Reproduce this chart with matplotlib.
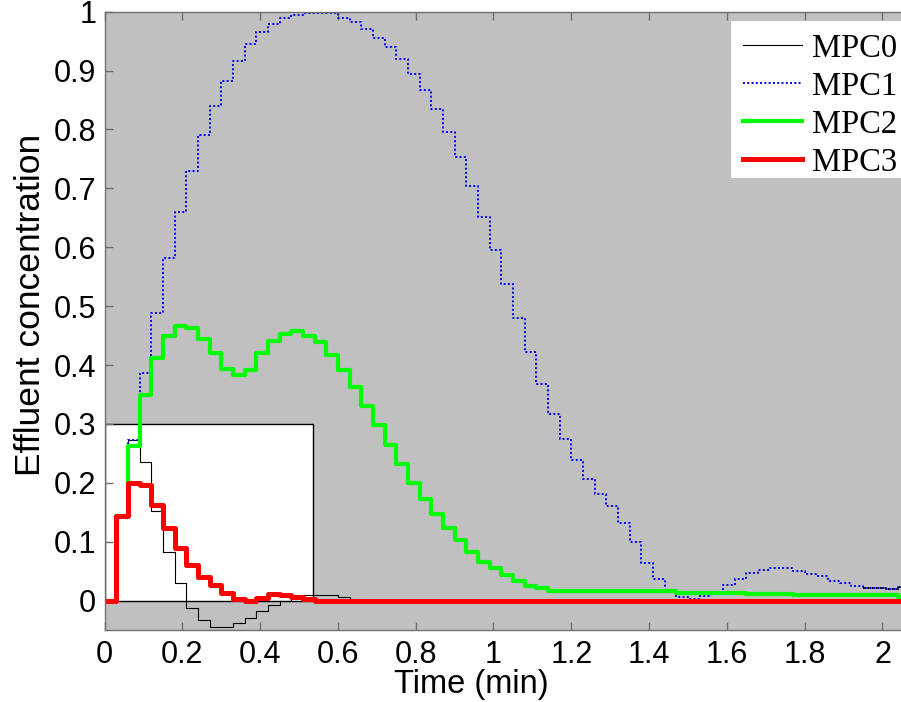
import numpy as np
import matplotlib
matplotlib.use("Agg")
import matplotlib.pyplot as plt
from matplotlib.patches import Rectangle

# sample time of the step responses (min)
dt = 0.03

mpc0 = [0.0, 0.143, 0.273, 0.236, 0.152, 0.082, 0.029, -0.012, -0.033, -0.045,
        -0.045, -0.038, -0.029, -0.018, -0.007, 0.0, 0.006, 0.0095, 0.0095, 0.0095,
        0.006, 0.003, 0.001, 0.0, 0.0, 0.0, 0.0, 0.0, 0.0, 0.0,
        0.0, 0.0, 0.0, 0.0, 0.0, 0.0, 0.0, 0.0, 0.0, 0.0,
        0.0, 0.0, 0.0, 0.0, 0.0, 0.0, 0.0, 0.0, 0.0, 0.0,
        0.0, 0.0, 0.0, 0.0, 0.0, 0.0, 0.0, 0.0, 0.0, 0.0,
        0.0, 0.0, 0.0, 0.0, 0.0, 0.0, 0.0, 0.0, 0.0]

mpc1 = [0.0, 0.143, 0.273, 0.387, 0.489, 0.581, 0.660, 0.730, 0.790, 0.840,
        0.882, 0.917, 0.945, 0.965, 0.979, 0.989, 0.995, 0.997, 0.998, 0.997,
        0.990, 0.982, 0.970, 0.956, 0.940, 0.919, 0.895, 0.867, 0.835, 0.795,
        0.753, 0.704, 0.652, 0.596, 0.538, 0.480, 0.422, 0.368, 0.316, 0.274,
        0.238, 0.206, 0.181, 0.160, 0.132, 0.100, 0.064, 0.037, 0.017, 0.006,
        0.003, 0.008, 0.015, 0.027, 0.036, 0.046, 0.052, 0.055, 0.055, 0.050,
        0.045, 0.041, 0.034, 0.029, 0.025, 0.022, 0.022, 0.020, 0.023]

mpc2 = [0.0, 0.143, 0.262, 0.349, 0.412, 0.449, 0.466, 0.463, 0.445, 0.420,
        0.394, 0.383, 0.392, 0.420, 0.441, 0.453, 0.457, 0.449, 0.439, 0.417,
        0.392, 0.363, 0.330, 0.298, 0.265, 0.232, 0.200, 0.172, 0.147, 0.123,
        0.102, 0.083, 0.066, 0.055, 0.043, 0.034, 0.025, 0.021, 0.016, 0.016,
        0.016, 0.016, 0.016, 0.016, 0.016, 0.016, 0.016, 0.016, 0.016, 0.0135,
        0.0135, 0.0135, 0.0135, 0.0135, 0.0135, 0.011, 0.011, 0.011, 0.011, 0.0088,
        0.0088, 0.0088, 0.0088, 0.0088, 0.0088, 0.0088, 0.0088, 0.0088, 0.0066]

mpc3 = [0.0, 0.143, 0.200, 0.197, 0.162, 0.124, 0.089, 0.060, 0.040, 0.027,
        0.013, 0.003, -0.001, 0.005, 0.011, 0.009, 0.006, 0.002, 0.0, 0.0,
        0.0, 0.0, 0.0, 0.0, 0.0, 0.0, 0.0, 0.0, 0.0, 0.0,
        0.0, 0.0, 0.0, 0.0, 0.0, 0.0, 0.0, 0.0, 0.0, 0.0,
        0.0, 0.0, 0.0, 0.0, 0.0, 0.0, 0.0, 0.0, 0.0, 0.0,
        0.0, 0.0, 0.0, 0.0, 0.0, 0.0, 0.0, 0.0, 0.0, 0.0,
        0.0, 0.0, 0.0, 0.0, 0.0, 0.0, 0.0, 0.0, 0.0]

labels = ["MPC0", "MPC1", "MPC2", "MPC3"]
xticks = [0, 0.2, 0.4, 0.6, 0.8, 1, 1.2, 1.4, 1.6, 1.8, 2]
xticklabels = ["0", "0.2", "0.4", "0.6", "0.8", "1", "1.2", "1.4", "1.6", "1.8", "2"]
yticks = [0, 0.1, 0.2, 0.3, 0.4, 0.5, 0.6, 0.7, 0.8, 0.9, 1]
yticklabels = ["0", "0.1", "0.2", "0.3", "0.4", "0.5", "0.6", "0.7", "0.8", "0.9", "1"]

n = len(mpc0)
t = np.round(np.arange(n + 1) * dt, 4)


def ext(v):
    return np.append(np.asarray(v, float), v[-1])


plt.rcParams['font.family'] = ['Liberation Sans', 'DejaVu Sans']

fig = plt.figure(figsize=(9.01, 7.02), dpi=100)
W, H = 901.0, 702.0
x0, x1 = 104.5, 905.0
y0, y1 = 630.0, 11.7
ax = fig.add_axes([x0 / W, (H - y0) / H, (x1 - x0) / W, (y0 - y1) / H])
ax.set_facecolor('#c0c0c0')

ax.add_patch(Rectangle((0, 0), 0.537, 0.3, facecolor='white', edgecolor='black',
                       lw=1.0, zorder=1.5))

l0, = ax.step(t, ext(mpc0), where='post', color='black', lw=0.8, zorder=2)
l1, = ax.step(t, ext(mpc1), where='post', color='#0000ff', lw=1.4,
              linestyle=(0, (1, 1.2)), zorder=2.1)
k = 65
ax.step(t[k:], ext(mpc1)[k:], where='post', color='black', lw=1.4,
        linestyle=(0, (1, 1.2)), zorder=2.15)
l2, = ax.step(t, ext(mpc2), where='post', color='#00ff00', lw=3.0, zorder=2.2)
l3, = ax.step(t, ext(mpc3), where='post', color='#ff0000', lw=3.6, zorder=2.3)

ax.set_xlim(0, (x1 - x0) / 389.0)
ax.set_ylim(-0.05, 1.0)
ax.set_xticks(xticks)
ax.set_xticklabels(xticklabels)
ax.set_yticks(yticks)
ax.set_yticklabels(yticklabels)

for s in ax.spines.values():
    s.set_color('#707070')
    s.set_linewidth(1.0)
ax.spines['right'].set_visible(False)
ax.tick_params(direction='in', length=6, width=1, color='#707070', top=True,
               right=False, labelsize=22, labelcolor='black')
ax.tick_params(axis='x', pad=7)
ax.tick_params(axis='y', pad=6)

ax.set_xlabel('Time (min)', fontsize=23.5, va='center')
ax.xaxis.set_label_coords((471 - x0) / (x1 - x0), -(684 - y0) / (y0 - y1))
ax.set_ylabel('Effluent concentration', fontsize=25.5, va='center')
ax.yaxis.set_label_coords(-(x0 - 31) / (x1 - x0), (y0 - 305) / (y0 - y1))

# legend background box (white, no visible border)
ax.add_patch(Rectangle((731 / W, (H - 178) / H), (905 - 731) / W, (178 - 20.7) / H,
                       transform=fig.transFigure, facecolor='white',
                       edgecolor='none', zorder=4, clip_on=False))

leg = ax.legend([l0, l1, l2, l3], labels, loc='upper left',
                bbox_to_anchor=(731 / W, (H - 20.7) / H),
                bbox_transform=fig.transFigure,
                prop={'family': 'Liberation Serif', 'size': 23.5},
                frameon=False,
                handlelength=1.8, handletextpad=0.3, labelspacing=0.23,
                borderpad=0.38, borderaxespad=0)
leg.set_zorder(5)

fig.savefig('out.png', dpi=100, facecolor='white')
